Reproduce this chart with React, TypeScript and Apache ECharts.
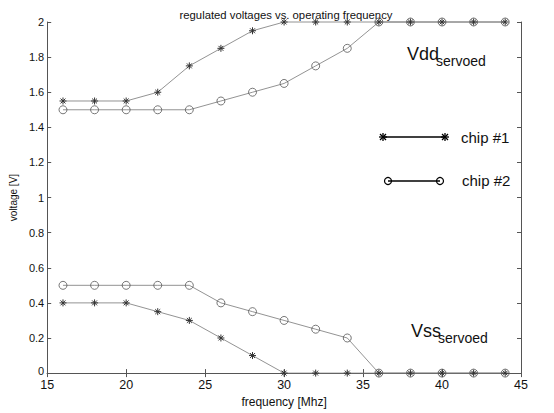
import React, { useEffect, useRef } from "react";
import * as echarts from "echarts";

const freq = [16, 18, 20, 22, 24, 26, 28, 30, 32, 34, 36, 38, 40, 42, 44];
const vddChip1 = [1.55, 1.55, 1.55, 1.6, 1.75, 1.85, 1.95, 2, 2, 2, 2, 2, 2, 2, 2];
const vddChip2 = [1.5, 1.5, 1.5, 1.5, 1.5, 1.55, 1.6, 1.65, 1.75, 1.85, 2, 2, 2, 2, 2];
const vssChip1 = [0.4, 0.4, 0.4, 0.35, 0.3, 0.2, 0.1, 0, 0, 0, 0, 0, 0, 0, 0];
const vssChip2 = [0.5, 0.5, 0.5, 0.5, 0.5, 0.4, 0.35, 0.3, 0.25, 0.2, 0, 0, 0, 0, 0];

const STAR = "path://M0,-1L0,1M-1,0L1,0M-0.7,-0.7L0.7,0.7M-0.7,0.7L0.7,-0.7";
const FONT = "'Liberation Sans', Arial, Helvetica, sans-serif";

function pairs(ys: number[]) {
  return freq.map((f, i) => [f, ys[i]]);
}

export default function App() {
  const ref = useRef<HTMLDivElement>(null);
  useEffect(() => {
    if (!ref.current) return;
    const chart = echarts.init(ref.current, undefined, { renderer: "svg" });
    const mk = (name: string, ys: number[], star: boolean) => ({
      name,
      type: "line",
      data: pairs(ys),
      clip: false,
      symbol: star ? STAR : "circle",
      symbolSize: star ? 7 : 8,
      lineStyle: { color: "#777", width: 0.8 },
      itemStyle: star
        ? { color: "#333", borderColor: "#333", borderWidth: 1 }
        : { color: "rgba(255,255,255,0)", borderColor: "#555", borderWidth: 0.8 },
      z: star ? 3 : 2,
    });
    const axisLine = { show: true, lineStyle: { color: "#555", width: 1 } };
    const tick = { show: true, inside: true, length: 4, lineStyle: { color: "#555" } };
    const text = (x: number, y: number, t: string, size: number) => ({
      type: "text",
      x,
      y,
      style: { text: t, fontSize: size, fontFamily: FONT, fill: "#111", verticalAlign: "middle" },
    });
    const starShape = (cx: number, cy: number) => ({
      type: "group",
      x: cx,
      y: cy,
      children: [
        { type: "line", shape: { x1: 0, y1: -4, x2: 0, y2: 4 }, style: { stroke: "#000", lineWidth: 1.3 } },
        { type: "line", shape: { x1: -4, y1: 0, x2: 4, y2: 0 }, style: { stroke: "#000", lineWidth: 1.3 } },
        { type: "line", shape: { x1: -3, y1: -3, x2: 3, y2: 3 }, style: { stroke: "#000", lineWidth: 1.3 } },
        { type: "line", shape: { x1: -3, y1: 3, x2: 3, y2: -3 }, style: { stroke: "#000", lineWidth: 1.3 } },
      ],
    });
    const circ = (cx: number, cy: number) => ({
      type: "circle",
      shape: { cx, cy, r: 3.5 },
      style: { fill: "none", stroke: "#000", lineWidth: 1.2 },
    });
    chart.setOption({
      animation: false,
      backgroundColor: "#fff",
      title: {
        text: "regulated voltages vs. operating frequency",
        left: 281,
        textAlign: "center",
        top: 4,
        textStyle: { fontSize: 11.3, fontWeight: "normal", color: "#111", fontFamily: FONT },
      },
      grid: { left: 41, right: 33, top: 22, bottom: 31 },
      xAxis: [
        {
          type: "value",
          min: 15,
          max: 45,
          interval: 5,
          position: "bottom",
          name: "frequency [Mhz]",
          nameLocation: "middle",
          nameGap: 20,
          nameTextStyle: { fontSize: 12, color: "#111", fontFamily: FONT },
          axisLine,
          axisTick: tick,
          axisLabel: { color: "#111", fontSize: 12.5, fontFamily: FONT, margin: 5 },
          splitLine: { show: false },
        },
        {
          type: "value",
          min: 15,
          max: 45,
          interval: 5,
          position: "top",
          axisLine,
          axisTick: tick,
          axisLabel: { show: false },
          splitLine: { show: false },
        },
      ],
      yAxis: [
        {
          type: "value",
          min: 0,
          max: 2,
          interval: 0.2,
          position: "left",
          name: "voltage [V]",
          nameLocation: "middle",
          nameGap: 25,
          nameTextStyle: { fontSize: 10, color: "#111", fontFamily: FONT },
          axisLine,
          axisTick: tick,
          axisLabel: {
            color: "#111",
            fontSize: 11,
            fontFamily: FONT,
            margin: 3,
            formatter: (v: number) => (v === 0 ? "{z|0}" : String(+v.toFixed(1))),
            rich: { z: { fontSize: 11, fontFamily: FONT, color: "#111", lineHeight: 11, padding: [0, 0, 5, 0] } },
          },
          splitLine: { show: false },
        },
        {
          type: "value",
          min: 0,
          max: 2,
          interval: 0.2,
          position: "right",
          axisLine,
          axisTick: tick,
          axisLabel: { show: false },
          splitLine: { show: false },
        },
      ],
      series: [
        mk("Vdd chip #2", vddChip2, false),
        mk("Vss chip #2", vssChip2, false),
        mk("Vdd chip #1", vddChip1, true),
        mk("Vss chip #1", vssChip1, true),
      ],
      graphic: [
        text(407, 54, "Vdd", 18),
        text(436, 61, "servoed", 14),
        text(411, 331, "Vss", 18),
        text(438, 338, "servoed", 14),
        { type: "line", shape: { x1: 383, y1: 137, x2: 445, y2: 137 }, style: { stroke: "#000", lineWidth: 1.6 } },
        starShape(383, 137),
        starShape(445, 137),
        text(461, 137, "chip #1", 15),
        { type: "line", shape: { x1: 388, y1: 181, x2: 440, y2: 181 }, style: { stroke: "#000", lineWidth: 1.6 } },
        circ(388, 181),
        circ(440, 181),
        text(462, 180, "chip #2", 15),
      ],
    });
    return () => chart.dispose();
  }, []);
  return <div ref={ref} style={{ width: 554, height: 413, position: "absolute", left: 0, top: 0 }} />;
}
